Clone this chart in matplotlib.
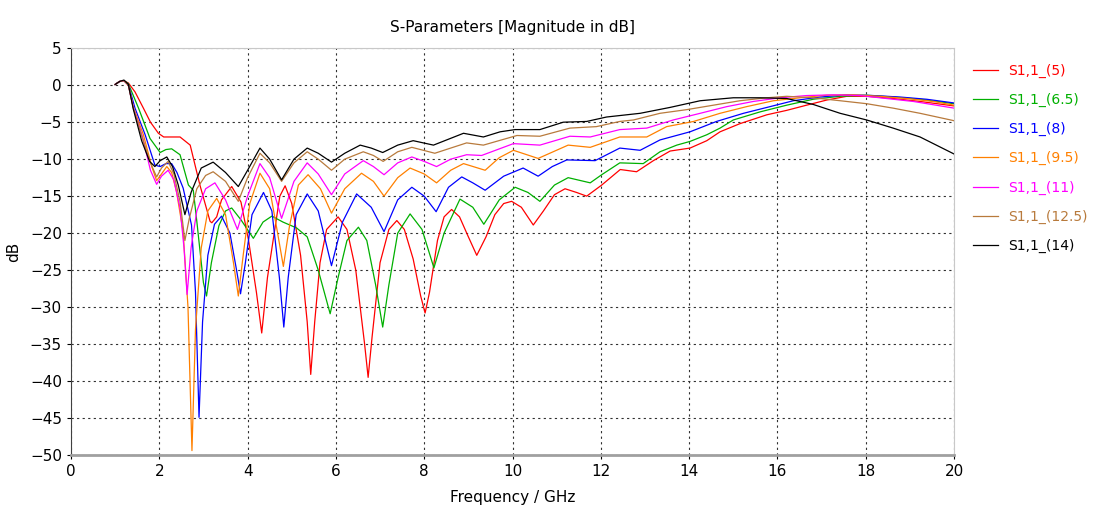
import matplotlib
matplotlib.use("Agg")
import matplotlib.pyplot as plt

# S1,1 curves (frequency in GHz, magnitude in dB)
labels = ["S1,1_(5)", "S1,1_(6.5)", "S1,1_(8)", "S1,1_(9.5)", "S1,1_(11)", "S1,1_(12.5)", "S1,1_(14)"]
colors = ["#ff0000", "#00b000", "#0000ff", "#ff8000", "#ff00ff", "#b87a3c", "#000000"]

f_5 = [1.0, 1.1, 1.2, 1.3, 1.45, 1.64, 1.8, 1.98, 2.1, 2.28, 2.47, 2.7, 2.92, 3.15, 3.19, 3.3, 3.41,
       3.64, 3.85, 4.02, 4.2, 4.32, 4.45, 4.58, 4.73, 4.85, 5.0, 5.2, 5.35, 5.43, 5.52, 5.64, 5.79,
       6.05, 6.25, 6.45, 6.65, 6.73, 6.82, 7.0, 7.2, 7.38, 7.55, 7.75, 7.92, 8.02, 8.12, 8.3, 8.45,
       8.62, 8.8, 9.0, 9.19, 9.4, 9.6, 9.8, 9.98, 10.2, 10.47, 10.7, 10.95, 11.19, 11.45, 11.68,
       12.02, 12.44, 12.81, 13.19, 13.57, 14.02, 14.4, 14.7, 15.15, 15.76, 16.21, 16.66, 17.12,
       17.57, 18.02, 18.62, 19.23, 20.0]
db_5 = [0.1, 0.5, 0.6, 0.3, -0.9, -3.1, -5.0, -6.5, -7.0, -7.0, -7.0, -8.1, -13.5, -18.4, -18.6, -17.8,
        -15.5, -13.7, -15.8, -20.9, -28.0, -33.5, -26.0, -20.9, -15.0, -13.6, -16.0, -23.0, -32.0,
        -39.1, -32.0, -24.0, -19.5, -17.8, -19.5, -25.0, -35.0, -39.5, -34.0, -24.0, -19.5, -18.3,
        -19.5, -23.5, -28.5, -30.8, -28.0, -21.0, -17.8, -16.8, -17.8, -20.5, -23.0, -20.5, -17.5,
        -16.0, -15.7, -16.5, -18.9, -17.0, -14.8, -14.0, -14.5, -15.0, -13.5, -11.4, -11.7, -10.2,
        -8.9, -8.5, -7.5, -6.3, -5.2, -4.0, -3.4, -2.7, -2.0, -1.5, -1.5, -1.8, -2.2, -2.8]

f_65 = [1.0, 1.1, 1.2, 1.3, 1.53, 1.79, 2.02, 2.15, 2.28, 2.47, 2.66, 2.77, 2.85, 3.0, 3.07, 3.18, 3.35,
        3.5, 3.64, 3.85, 4.13, 4.35, 4.55, 4.8, 5.11, 5.35, 5.6, 5.87, 6.05, 6.25, 6.51, 6.7, 6.9,
        7.06, 7.2, 7.4, 7.68, 7.95, 8.22, 8.45, 8.81, 9.1, 9.35, 9.7, 10.06, 10.35, 10.62, 10.95,
        11.26, 11.76, 12.02, 12.43, 12.96, 13.34, 13.72, 14.02, 14.4, 14.7, 15.0, 15.61, 16.21,
        16.81, 17.42, 18.02, 18.62, 19.23, 20.0]
db_65 = [0.1, 0.5, 0.6, 0.2, -3.1, -7.2, -9.1, -8.7, -8.6, -9.4, -13.5, -14.2, -18.4, -26.7, -28.5,
         -24.0, -19.0, -17.0, -16.6, -18.2, -20.7, -18.5, -17.7, -18.5, -19.3, -20.5, -25.0, -30.9,
         -26.0, -21.0, -19.2, -21.0, -27.0, -32.7, -27.0, -20.0, -17.4, -19.5, -24.7, -20.0, -15.4,
         -16.5, -18.8, -15.5, -13.8, -14.5, -15.7, -13.5, -12.5, -13.2, -12.1, -10.5, -10.6, -9.0,
         -8.1, -7.6, -6.7, -5.8, -4.7, -3.6, -2.7, -1.9, -1.5, -1.35, -1.6, -1.9, -2.5]

f_8 = [1.0, 1.1, 1.2, 1.3, 1.45, 1.68, 1.9, 2.02, 2.15, 2.28, 2.4, 2.54, 2.73, 2.82, 2.9, 2.98, 3.1,
       3.25, 3.41, 3.6, 3.75, 3.84, 3.95, 4.1, 4.36, 4.55, 4.72, 4.82, 4.92, 5.1, 5.35, 5.6, 5.9,
       6.15, 6.47, 6.8, 7.09, 7.4, 7.72, 8.0, 8.27, 8.55, 8.85, 9.1, 9.38, 9.8, 10.24, 10.58, 10.9,
       11.23, 11.87, 12.43, 12.89, 13.34, 14.02, 14.62, 15.23, 15.83, 16.36, 16.96, 17.57, 18.17,
       18.78, 19.38, 20.0]
db_8 = [0.1, 0.5, 0.6, 0.1, -3.1, -6.7, -10.8, -11.0, -10.6, -10.6, -11.8, -13.9, -18.9, -28.0,
        -44.9, -32.0, -23.0, -18.8, -17.7, -20.0, -25.0, -28.2, -24.0, -17.5, -14.5, -17.0, -26.0,
        -32.7, -26.0, -17.5, -14.7, -17.0, -24.4, -18.5, -14.7, -16.5, -19.8, -15.5, -13.8, -15.0,
        -17.1, -13.8, -12.4, -13.2, -14.2, -12.3, -11.2, -12.3, -11.0, -10.1, -10.2, -8.5, -8.8,
        -7.4, -6.3, -4.9, -3.8, -2.9, -2.1, -1.6, -1.3, -1.4, -1.6, -1.9, -2.4]

f_95 = [1.0, 1.1, 1.2, 1.3, 1.41, 1.64, 1.83, 1.94, 2.05, 2.17, 2.28, 2.39, 2.54, 2.65, 2.74, 2.82,
        2.95, 3.1, 3.3, 3.5, 3.68, 3.79, 3.9, 4.05, 4.28, 4.5, 4.68, 4.81, 4.95, 5.15, 5.37, 5.65,
        5.9, 6.2, 6.58, 6.85, 7.09, 7.4, 7.68, 8.0, 8.28, 8.6, 8.89, 9.38, 9.7, 10.02, 10.58, 11.26,
        11.76, 12.43, 13.04, 13.49, 14.1, 14.7, 15.3, 15.91, 16.51, 17.12, 17.72, 18.32, 18.93,
        19.53, 20.0]
db_95 = [0.1, 0.5, 0.6, 0.0, -2.9, -6.7, -11.0, -12.9, -12.0, -11.0, -11.8, -14.4, -19.8, -30.0,
         -49.4, -33.0, -22.0, -17.0, -15.3, -17.5, -24.0, -28.5, -23.0, -16.0, -11.9, -14.0, -20.0,
         -24.5, -19.0, -13.5, -12.1, -14.0, -17.3, -14.0, -11.9, -13.0, -15.0, -12.5, -11.2, -12.0,
         -13.2, -11.5, -10.6, -11.5, -9.8, -8.8, -9.9, -8.1, -8.4, -7.0, -7.0, -5.6, -4.9, -3.8,
         -2.9, -2.1, -1.7, -1.35, -1.3, -1.5, -1.8, -2.2, -2.7]

f_11 = [1.0, 1.1, 1.2, 1.3, 1.41, 1.62, 1.8, 1.94, 2.05, 2.2, 2.33, 2.47, 2.56, 2.63, 2.72, 2.85, 3.05,
        3.26, 3.5, 3.77, 4.0, 4.28, 4.5, 4.77, 5.05, 5.35, 5.6, 5.9, 6.2, 6.62, 6.85, 7.09, 7.4,
        7.72, 8.0, 8.28, 8.6, 8.96, 9.3, 10.02, 10.62, 11.3, 11.76, 12.43, 13.04, 13.64, 14.25,
        14.85, 15.45, 16.06, 16.66, 17.27, 17.87, 18.47, 19.08, 20.0]
db_11 = [0.1, 0.5, 0.6, 0.0, -3.0, -7.0, -11.5, -13.4, -12.3, -11.5, -12.8, -16.6, -22.0, -28.3,
         -22.0, -17.0, -14.0, -13.2, -15.5, -19.5, -15.0, -10.6, -12.5, -18.0, -13.0, -10.5, -12.0,
         -14.8, -12.0, -10.2, -11.0, -12.1, -10.5, -9.7, -10.3, -11.0, -10.0, -9.4, -9.5, -7.9,
         -8.1, -6.9, -7.0, -6.0, -5.8, -4.7, -3.8, -2.9, -2.2, -1.7, -1.4, -1.3, -1.4, -1.8, -2.2,
         -3.1]

f_125 = [1.0, 1.1, 1.2, 1.3, 1.41, 1.6, 1.8, 1.94, 2.05, 2.2, 2.33, 2.47, 2.58, 2.68, 2.85, 3.05,
         3.22, 3.5, 3.79, 4.0, 4.28, 4.5, 4.77, 5.05, 5.35, 5.6, 5.9, 6.2, 6.62, 6.85, 7.07, 7.4,
         7.72, 8.24, 8.96, 9.34, 10.1, 10.62, 11.3, 11.9, 12.43, 12.74, 13.34, 13.95, 14.55, 15.15,
         15.76, 16.21, 16.81, 17.42, 18.02, 18.62, 19.23, 20.0]
db_125 = [0.1, 0.5, 0.6, 0.0, -3.0, -6.8, -10.5, -12.4, -11.2, -10.3, -12.0, -15.7, -21.0, -18.0,
          -14.0, -12.2, -11.7, -13.0, -15.7, -12.5, -9.2, -10.5, -13.0, -10.5, -9.0, -10.0, -11.5,
          -10.0, -9.0, -9.5, -10.3, -9.0, -8.4, -9.2, -7.8, -8.1, -6.8, -6.9, -5.8, -5.6, -4.9,
          -4.7, -3.8, -3.3, -2.7, -2.1, -1.7, -1.5, -1.7, -2.1, -2.5, -3.1, -3.8, -4.8]

f_14 = [1.0, 1.1, 1.2, 1.3, 1.41, 1.6, 1.78, 1.9, 2.02, 2.17, 2.3, 2.43, 2.58, 2.72, 2.95, 3.22, 3.5,
        3.79, 4.0, 4.28, 4.5, 4.77, 5.05, 5.35, 5.6, 5.9, 6.2, 6.55, 6.8, 7.06, 7.4, 7.75, 8.21,
        8.89, 9.34, 9.72, 10.06, 10.62, 11.15, 11.68, 12.13, 12.89, 13.57, 14.25, 15.0, 15.61,
        16.21, 16.81, 17.42, 18.02, 18.62, 19.23, 20.0]
db_14 = [0.1, 0.5, 0.7, 0.1, -3.2, -7.5, -10.3, -11.0, -10.2, -9.7, -11.0, -13.5, -17.5, -14.5,
         -11.2, -10.4, -11.8, -13.7, -11.5, -8.5, -10.0, -12.8, -10.0, -8.5, -9.2, -10.4, -9.2,
         -8.1, -8.5, -9.1, -8.1, -7.5, -8.1, -6.5, -7.0, -6.3, -6.0, -6.0, -5.0, -4.9, -4.3, -3.8,
         -3.0, -2.1, -1.7, -1.7, -1.8, -2.6, -3.8, -4.7, -5.8, -7.0, -9.3]

freqs = [f_5, f_65, f_8, f_95, f_11, f_125, f_14]
mags = [db_5, db_65, db_8, db_95, db_11, db_125, db_14]

x_ticks = list(range(0, 21, 2))
y_ticks = list(range(-50, 6, 5))

fig = plt.figure(figsize=(10.97, 5.13), dpi=100)
ax = fig.add_axes([0.0647, 0.113, 0.805, 0.793])

for f, m, c, lab in zip(freqs, mags, colors, labels):
    ax.plot(f, m, color=c, lw=0.9, label=lab)

ax.set_xlim(0, 20)
ax.set_ylim(-50, 5)
ax.set_xticks(x_ticks)
ax.set_yticks(y_ticks)
ax.tick_params(labelsize=11, length=3, width=0.8, colors="#000000")
ax.grid(True, color="#303030", linestyle=(0, (2, 3)), linewidth=0.8)

ax.spines["left"].set_color("#404040")
ax.spines["bottom"].set_color("#a0a0a0")
ax.spines["bottom"].set_linewidth(2)
ax.spines["top"].set_color("#c8c8c8")
ax.spines["right"].set_color("#c8c8c8")

ax.set_title("S-Parameters [Magnitude in dB]", fontsize=11, pad=12)
ax.set_xlabel("Frequency / GHz", fontsize=11, labelpad=8)
ax.set_ylabel("dB", fontsize=11, labelpad=6)

fig.legend(loc="upper left", bbox_to_anchor=(0.881, 0.889), frameon=False, fontsize=10,
           labelcolor="linecolor", handlelength=1.8, labelspacing=1.08, handletextpad=0.7,
           borderpad=0)

fig.savefig("out.png", dpi=100)
